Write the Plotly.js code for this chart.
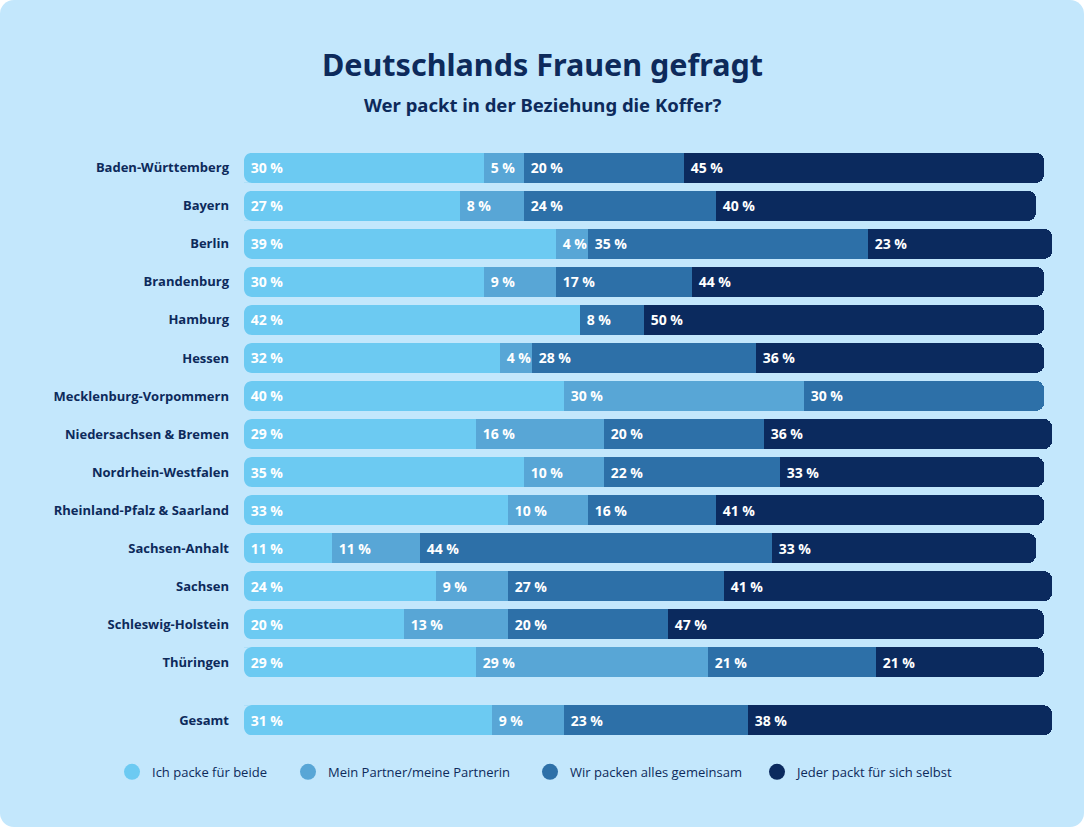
<!DOCTYPE html>
<html><head><meta charset="utf-8">
<script src="https://cdn.plot.ly/plotly-3.0.1.min.js"></script>
<style>
html,body{margin:0;padding:0;background:#ffffff;}
#card{width:1084px;height:827px;border-radius:14px;background:#c3e7fc;overflow:hidden;}
#chart{width:1084px;height:827px;}
</style></head>
<body><div id="card"><div id="chart"></div></div>
<script>
const regions = ["Baden-Württemberg","Bayern","Berlin","Brandenburg","Hamburg","Hessen","Mecklenburg-Vorpommern","Niedersachsen & Bremen","Nordrhein-Westfalen","Rheinland-Pfalz & Saarland","Sachsen-Anhalt","Sachsen","Schleswig-Holstein","Thüringen","Gesamt"];
const rowPos = [0,1,2,3,4,5,6,7,8,9,10,11,12,13,14.53];
const ichPackeFuerBeide = [30,27,39,30,42,32,40,29,35,33,11,24,20,29,31];
const meinPartner       = [5,8,4,9,0,4,30,16,10,10,11,9,13,29,9];
const gemeinsam         = [20,24,35,17,8,28,30,20,22,16,44,27,20,21,23];
const jederSelbst       = [45,40,23,44,50,36,0,36,33,41,33,41,47,21,38];
const seriesNames = ["Ich packe für beide","Mein Partner/meine Partnerin","Wir packen alles gemeinsam","Jeder packt für sich selbst"];
const colors = ["#6ccaf2","#58a6d6","#2d70a8","#0b2a5e"];
const seriesData = [ichPackeFuerBeide, meinPartner, gemeinsam, jederSelbst];

const navy = "#0d2a5b";
const bg = "#c3e7fc";
const barH = 0.79;
const legendIds = ['legend','legend2','legend3','legend4'];
const legendLeftPx = [112, 288, 530, 757];

const traces = seriesData.map((vals, i) => ({
  type: 'bar', orientation: 'h',
  x: vals, y: rowPos, name: seriesNames[i],
  marker: {color: colors[i], line: {width: 0}},
  text: vals.map(v => v > 0 ? '\u00a0' + v + ' %' : ''),
  textposition: 'inside', insidetextanchor: 'start', textangle: 0,
  textfont: {family: 'Open Sans, sans-serif', size: 14, color: '#ffffff', weight: 700},
  width: barH, showlegend: false, hoverinfo: 'skip', cliponaxis: false
}));
seriesNames.forEach((n, i) => traces.push({
  type: 'scatter', mode: 'markers', x: [null], y: [null], name: n, legend: legendIds[i],
  marker: {color: colors[i], size: 18, symbol: 'circle'}, showlegend: true, hoverinfo: 'skip'
}));

// left rounded corner masks
const rx = 1.0, ry = 8/38, k = 0.5523;
const shapes = [];
rowPos.forEach(yc => {
  const top = yc - barH/2, bot = yc + barH/2;
  shapes.push({type:'path', xref:'x', yref:'y', fillcolor: bg, line:{width:0}, layer:'above',
    path:`M0,${top} L${rx},${top} C${rx*(1-k)},${top} 0,${top+ry*(1-k)} 0,${top+ry} Z`});
  shapes.push({type:'path', xref:'x', yref:'y', fillcolor: bg, line:{width:0}, layer:'above',
    path:`M0,${bot} L${rx},${bot} C${rx*(1-k)},${bot} 0,${bot-ry*(1-k)} 0,${bot-ry} Z`});
});

const layout = {
  width: 1084, height: 827,
  paper_bgcolor: 'rgba(0,0,0,0)', plot_bgcolor: 'rgba(0,0,0,0)',
  margin: {l: 244, r: 24, t: 145.2, b: 85.2},
  barmode: 'stack', barcornerradius: 8,
  uniformtext: {mode: 'show', minsize: 14},
  xaxis: {range: [0, 102], visible: false, fixedrange: true},
  yaxis: {range: [15.1, -0.6], tickvals: rowPos, ticktext: regions, showgrid: false, zeroline: false,
    showline: false, ticks: '', ticklabelstandoff: 14,
    tickfont: {family: 'Open Sans, sans-serif', size: 13, color: navy, weight: 700}},
  showlegend: true,
  shapes: shapes,
  annotations: [
    {text: 'Deutschlands Frauen gefragt', xref: 'paper', yref: 'paper', x: (542-244)/816, y: (827-85.2-64)/596.6, showarrow: false,
     xanchor: 'center', yanchor: 'middle', font: {family: 'Noto Sans, sans-serif', size: 30.5, color: navy, weight: 700}},
    {text: 'Wer packt in der Beziehung die Koffer?', xref: 'paper', yref: 'paper', x: (542-244)/816, y: (827-85.2-105)/596.6, showarrow: false,
     xanchor: 'center', yanchor: 'middle', font: {family: 'Noto Sans, sans-serif', size: 18.5, color: navy, weight: 700}}
  ]
};
legendIds.forEach((id, i) => {
  layout[id] = {orientation: 'h', x: (legendLeftPx[i]-244)/816, xanchor: 'left', y: -0.05, yanchor: 'middle',
    font: {family: 'Open Sans, sans-serif', size: 13, color: navy}, bgcolor: 'rgba(0,0,0,0)', visible: true};
});
Plotly.newPlot('chart', traces, layout, {displayModeBar: false, staticPlot: true});
</script></body></html>
